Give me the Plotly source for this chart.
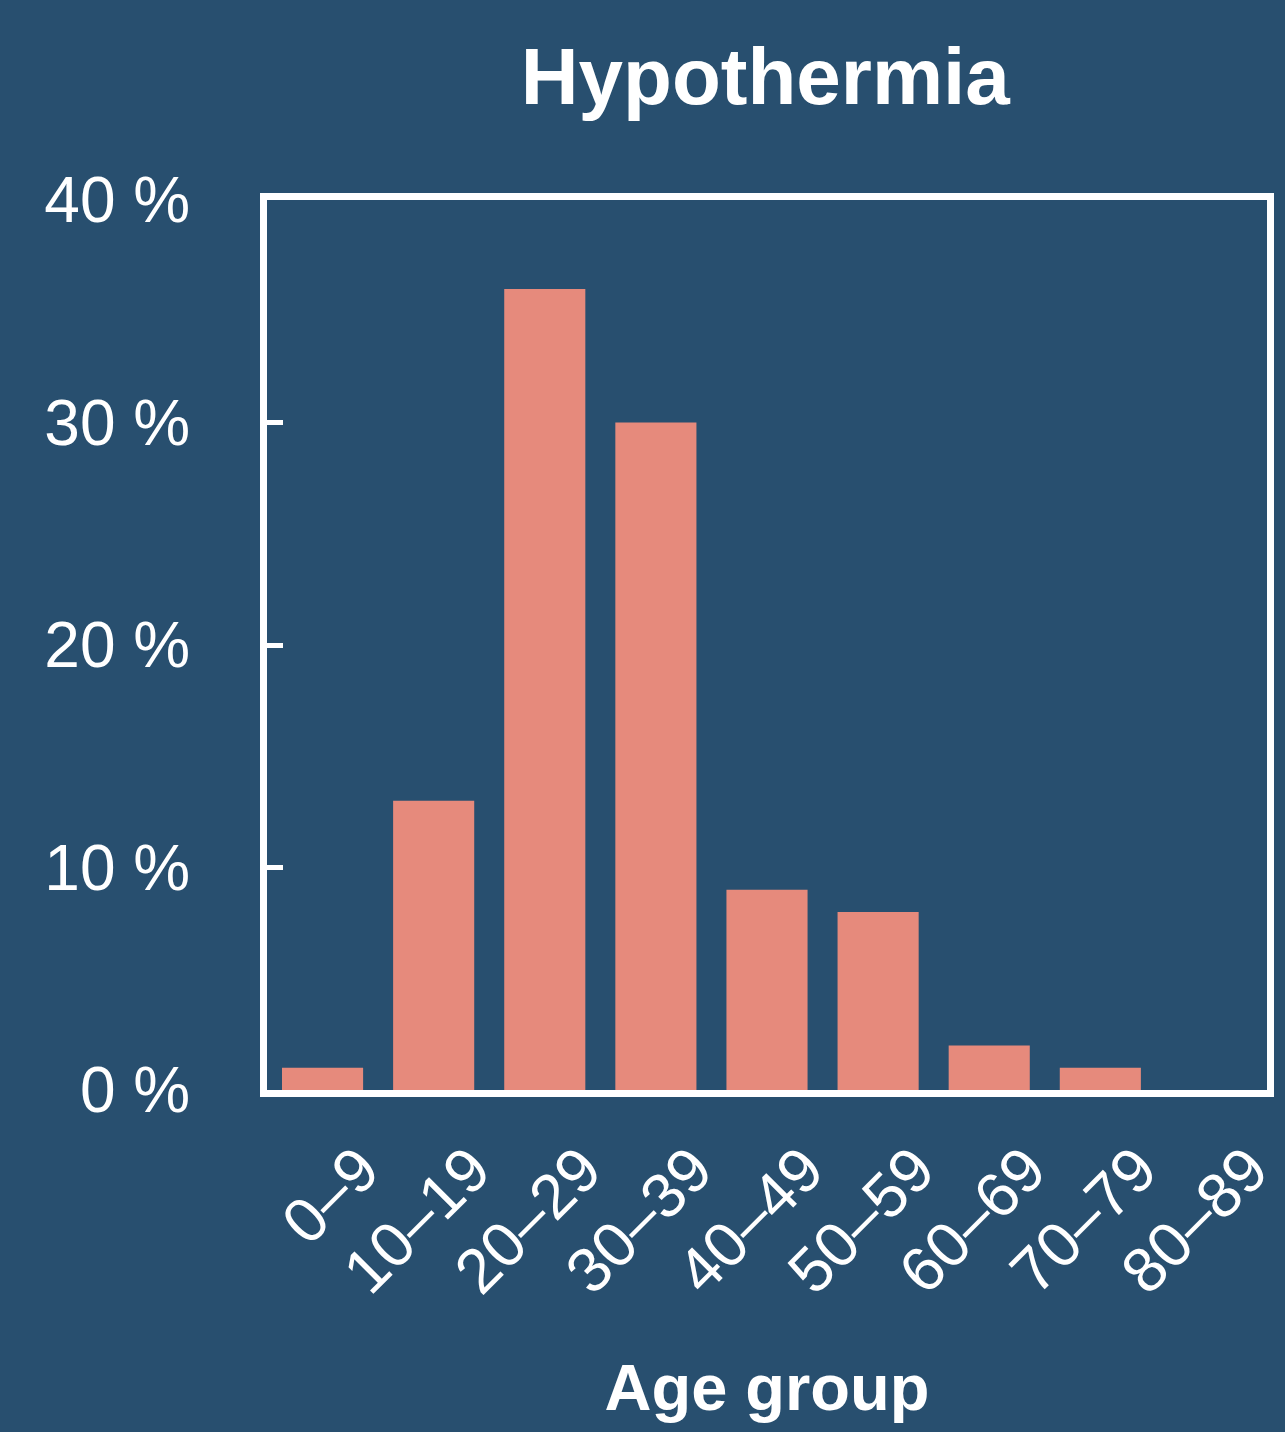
import plotly.graph_objects as go

categories = ["0–9", "10–19", "20–29", "30–39", "40–49", "50–59", "60–69", "70–79", "80–89"]
values = [1, 13, 36, 30, 9, 8, 2, 1, 0]
y_ticks = [0, 10, 20, 30, 40]
y_tick_text = ["0 %", "10 %", "20 %", "30 %", "40 %"]

BG = "#284f6f"
BAR = "#e68a7c"
FONT = "Liberation Sans, Arial, Helvetica, sans-serif"

fig = go.Figure(go.Bar(x=categories, y=values, marker=dict(color=BAR, line=dict(width=0)), width=0.73))

fig.update_layout(
    width=1285, height=1432,
    paper_bgcolor=BG, plot_bgcolor=BG,
    margin=dict(l=267, r=18, t=200, b=342, autoexpand=False),
    font=dict(family=FONT, color="white"),
    showlegend=False,
    title=dict(text="<b>Hypothermia</b>", x=0.5956, xanchor="center", y=1 - 76 / 1432, yanchor="middle",
               font=dict(size=80, color="white", family=FONT)),
)
fig.update_yaxes(
    range=[0, 40], tickvals=y_ticks, ticktext=y_tick_text, automargin=False,
    ticks="inside", ticklen=16, tickwidth=5, tickcolor="white",
    showgrid=False, zeroline=False,
    showline=True, linewidth=7, linecolor="white", mirror=True,
    tickfont=dict(size=64, color="white", family=FONT),
    ticklabelstandoff=57,
)
fig.update_xaxes(
    range=[-0.5, 8.5], tickangle=-45, ticks="", automargin=False,
    showgrid=False, zeroline=False,
    showline=True, linewidth=7, linecolor="white", mirror=True,
    tickfont=dict(size=63, color="white", family=FONT),
    ticklabelshift=38, ticklabelstandoff=10,
    title=dict(text="<b>Age group</b>", font=dict(size=65, color="white", family=FONT), standoff=62),
)

fig.write_html("out.html", config={"displayModeBar": False},
               post_script="document.body.style.margin='0';document.body.style.background='" + BG + "';")
